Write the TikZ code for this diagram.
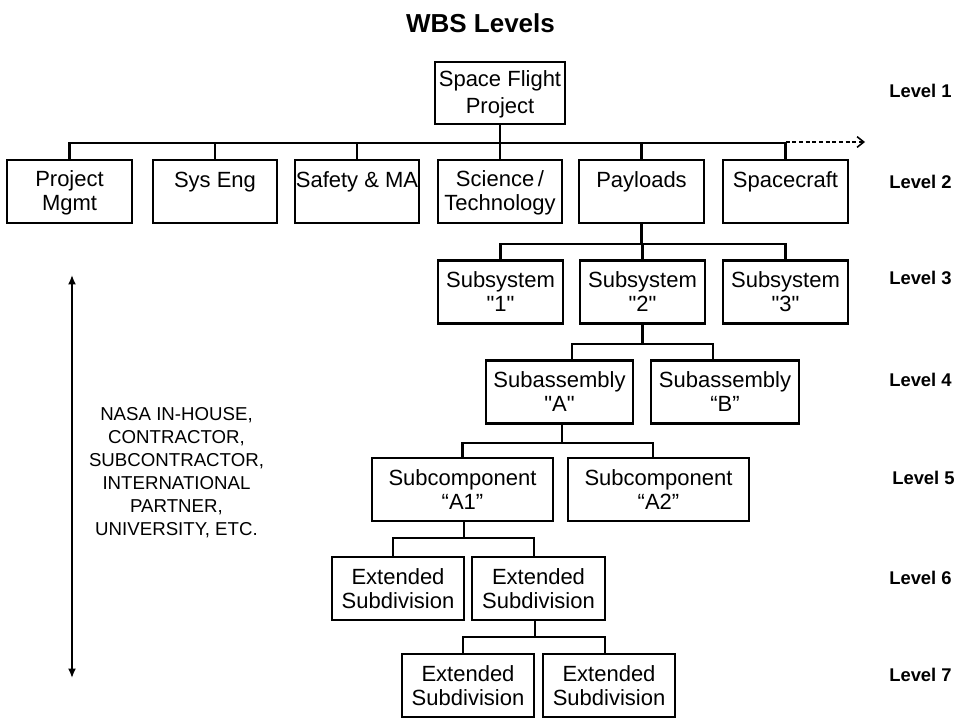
\documentclass[tikz,border=0pt]{standalone}
\usepackage{fontspec}
\setmainfont{Liberation Sans}
\usetikzlibrary{arrows.meta,calc}
% strut that fixes the height and depth of every box line
\newcommand\bxs{\rule[-3pt]{0pt}{17.25pt}}
% straight double quote
\newcommand\sq{\textquotedbl}
\begin{document}
\begin{tikzpicture}[x=0.75pt,y=-0.75pt,
  box/.style={draw, line width=1.75pt, inner sep=0pt, align=center,
    minimum height=47.25pt, font=\fontsize{16.5}{18}\selectfont},
  bw/.style={minimum width=#1*0.75pt},
  link/.style={line width=1.75pt},
  lvl/.style={anchor=base west, inner sep=0pt, font=\fontsize{13.8}{15}\bfseries\selectfont}
]
\useasboundingbox (0,0) rectangle (960,718);

% title
\node[anchor=base, inner sep=0pt, font=\fontsize{19.5}{22}\bfseries\selectfont] (title) at (480.5,32) {WBS Levels};

% level 1
\node[box, bw=130, minimum height=46.5pt, font=\fontsize{16.5}{20.25}\selectfont] (sfp) at (500,93) {\bxs Space Flight\\\bxs Project};

% level 2
\node[box, bw=125] (pm)  at (69.5,191.5)  {\bxs Project\\\bxs Mgmt};
\node[box, bw=124] (se)  at (215,191.5)   {\bxs Sys Eng\\\bxs};
\node[box, bw=124] (sma) at (357,191.5)   {\bxs Safety \& MA\\\bxs};
\node[box, bw=124] (sci) at (500,191.5)   {\bxs Science\,/\\\bxs Technology};
\node[box, bw=125] (pay) at (641.5,191.5) {\bxs Payloads\\\bxs};
\node[box, bw=125] (sc)  at (785.5,191.5) {\bxs Spacecraft\\\bxs};

% level 3
\node[box, bw=125] (ss1) at (500.5,292) {\bxs Subsystem\\\bxs \sq1\sq};
\node[box, bw=125] (ss2) at (642.5,292) {\bxs Subsystem\\\bxs \sq2\sq};
\node[box, bw=125] (ss3) at (785.5,292) {\bxs Subsystem\\\bxs \sq3\sq};

% level 4
\node[box, bw=147] (saA) at (559.5,392) {\bxs Subassembly\\\bxs \sq A\sq};
\node[box, bw=148] (saB) at (725,392)   {\bxs Subassembly\\\bxs “B”};

% level 5
\node[box, bw=181] (scA1) at (462.5,489.5) {\bxs Subcomponent\\\bxs “A1”};
\node[box, bw=181] (scA2) at (658.5,489.5) {\bxs Subcomponent\\\bxs “A2”};

% level 6
\node[box, bw=132] (e1) at (398,588.5)   {\bxs Extended\\\bxs Subdivision};
\node[box, bw=133] (e2) at (538.5,588.5) {\bxs Extended\\\bxs Subdivision};

% level 7
\node[box, bw=132] (e3) at (468,685.5) {\bxs Extended\\\bxs Subdivision};
\node[box, bw=132] (e4) at (609,685.5) {\bxs Extended\\\bxs Subdivision};

% tree connectors
\foreach \c in {pm,se,sma,sci,pay,sc}
  \draw[link] (sfp.south) -- ++(0,18) -| (\c.north);
\coordinate (more) at (865,142);
\draw[line width=1.2pt, dash pattern=on 3pt off 2pt, -{Straight Barb[length=5pt,width=8pt]}]
  (sc.north |- more) -- (more);

\foreach \c in {ss1,ss2,ss3}
  \draw[link] (pay.south) -- ++(0,20) -| (\c.north);

\draw[link] (ss2.south) -- ++(0,19) -| ($(saA.north)+(12.5,0)$);
\draw[link] (ss2.south) -- ++(0,19) -| ($(saB.north)+(-12,0)$);

\draw[link] ($(saA.south)+(2.5,0)$) -- ++(0,18) -| (scA1.north);
\draw[link] ($(saA.south)+(2.5,0)$) -- ++(0,18) -| ($(scA2.north)+(-5.5,0)$);

\draw[link] ($(scA1.south)+(1.5,0)$) -- ++(0,16) -| ($(e1.north)+(-5,0)$);
\draw[link] ($(scA1.south)+(1.5,0)$) -- ++(0,16) -| ($(e2.north)+(-4.5,0)$);

\draw[link] ($(e2.south)+(-3.5,0)$) -- ++(0,16) -| ($(e3.north)+(-5,0)$);
\draw[link] ($(e2.south)+(-3.5,0)$) -- ++(0,16) -| ($(e4.north)+(-4,0)$);

% span of performing organisations
\coordinate (rtop) at (72,275);
\coordinate (rbot) at (72,678);
\draw[line width=2.2pt, {Latex[length=7pt,width=6pt]}-{Latex[length=7pt,width=6pt]}] (rtop) -- (rbot);
\node[align=center, inner sep=0pt, font=\fontsize{14}{17.25}\selectfont] (who) at (176.5,473)
  {NASA IN-HOUSE,\\CONTRACTOR,\\SUBCONTRACTOR,\\INTERNATIONAL\\PARTNER,\\UNIVERSITY, ETC.};

% level labels
\node[lvl] (l1) at (889,97)  {Level 1};
\node[lvl] (l2) at (889,188) {Level 2};
\node[lvl] (l3) at (889,284) {Level 3};
\node[lvl] (l4) at (889,386) {Level 4};
\node[lvl] (l5) at (892,484) {Level 5};
\node[lvl] (l6) at (889,584) {Level 6};
\node[lvl] (l7) at (889,681) {Level 7};
\end{tikzpicture}
\end{document}
